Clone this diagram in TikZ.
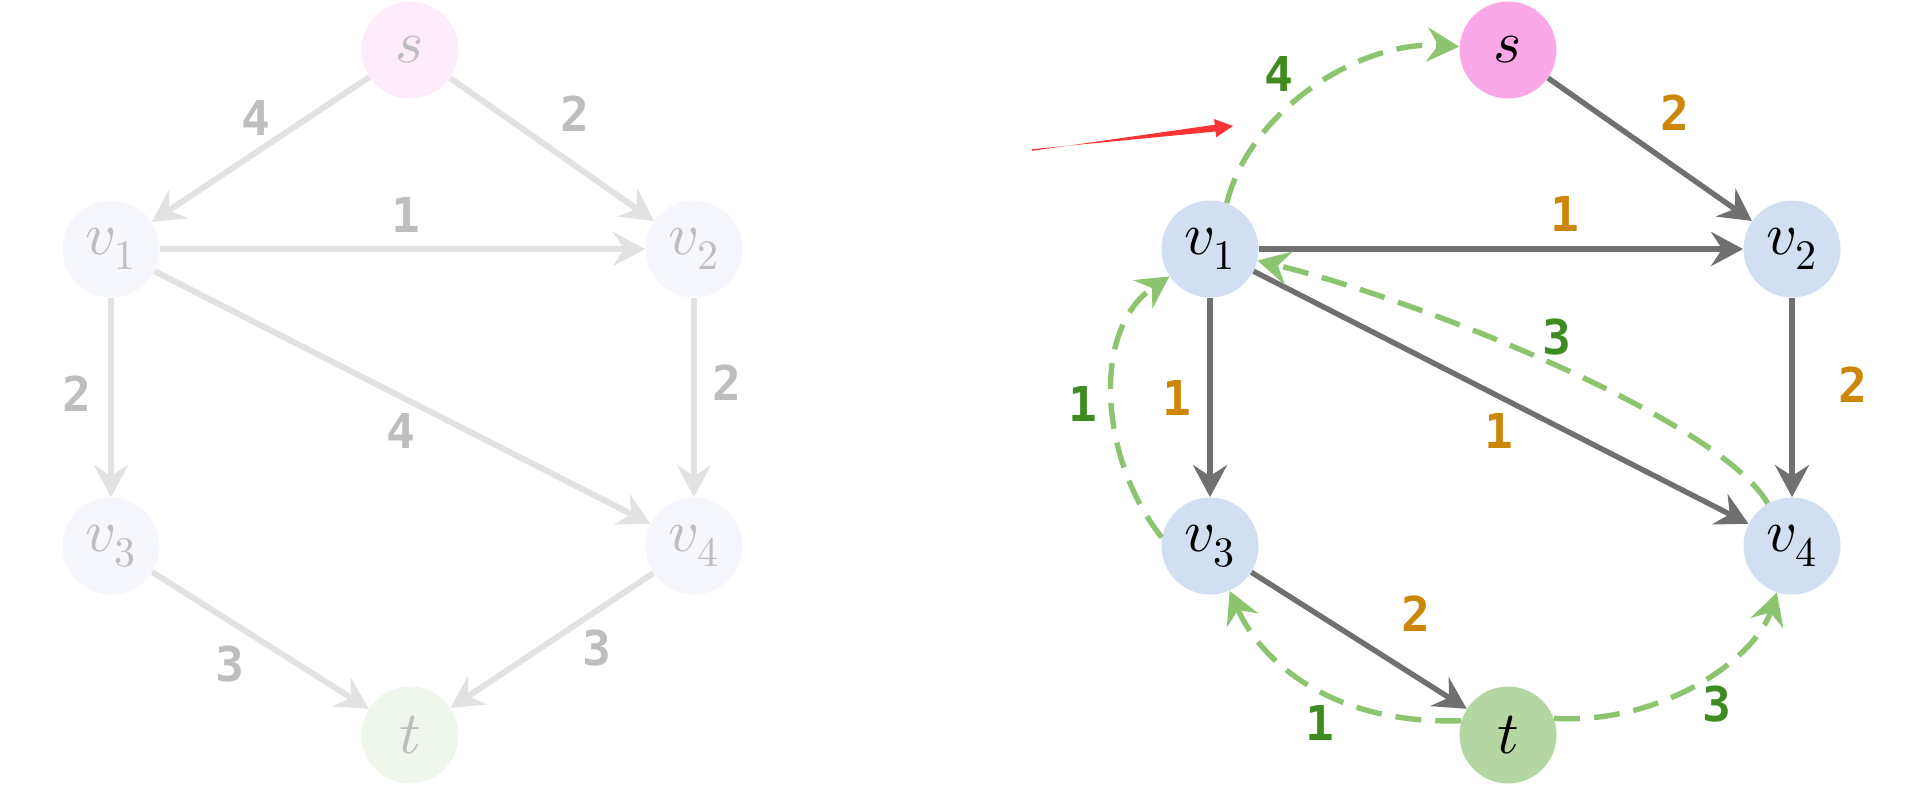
\documentclass[tikz,border=0pt]{standalone}
\usepackage{unicode-math}
\setmathfont{Latin Modern Math}
\newfontfamily\lblfont{DejaVu Sans Mono}
\usetikzlibrary{arrows.meta,calc}
\definecolor{fadeline}{RGB}{226,226,226}
\definecolor{fadetext}{RGB}{190,190,190}
\definecolor{fadeS}{RGB}{253,236,250}
\definecolor{fadeV}{RGB}{245,247,252}
\definecolor{fadeT}{RGB}{239,246,236}
\definecolor{fillS}{RGB}{250,168,232}
\definecolor{fillV}{RGB}{210,222,242}
\definecolor{fillT}{RGB}{180,214,162}
\definecolor{edgegray}{RGB}{112,112,112}
\definecolor{dashgreen}{RGB}{140,196,112}
\definecolor{lblgreen}{RGB}{62,140,32}
\definecolor{lblorange}{RGB}{204,134,8}
\definecolor{arrowred}{RGB}{250,52,52}
\begin{document}
\begin{tikzpicture}[x=0.5pt,y=-0.5pt,
  tip/.style={-{Stealth[length=16pt,width=17pt,inset=5.5pt]}},
  vtx/.style={circle,minimum size=48.5pt,inner sep=0pt,font=\fontsize{30}{33}\selectfont},
  fadevtx/.style={vtx,text=fadetext},
  lbl/.style={inner sep=0pt,font={\lblfont\bfseries\fontsize{24}{27}\selectfont}},
  fadelbl/.style={lbl,text=fadetext},
  orlbl/.style={lbl,text=lblorange},
  grlbl/.style={lbl,text=lblgreen},
  fedge/.style={tip,draw=fadeline,line width=3pt},
  gedge/.style={tip,draw=edgegray,line width=2.7pt},
  dedge/.style={tip,draw=dashgreen,line width=2.7pt,dash pattern=on 13pt off 7pt}]
\useasboundingbox (0,0) rectangle (1920,788);

% ---------- left (faded) graph ----------
\node[fadevtx,fill=fadeS] (sl)  at (410,50)  {$s$};
\node[fadevtx,fill=fadeV] (v1l) at (111,249) {$v_1$};
\node[fadevtx,fill=fadeV] (v2l) at (694,249) {$v_2$};
\node[fadevtx,fill=fadeV] (v3l) at (111,546) {$v_3$};
\node[fadevtx,fill=fadeV] (v4l) at (694,546) {$v_4$};
\node[fadevtx,fill=fadeT] (tl)  at (410,735) {$t$};

\draw[fedge] (sl) -- (v1l);
\draw[fedge] (sl) -- (v2l);
\draw[fedge] (v1l) -- (v2l);
\draw[fedge] (v1l) -- (v3l);
\draw[fedge] (v1l) -- (v4l);
\draw[fedge] (v2l) -- (v4l);
\draw[fedge] (v3l) -- (tl);
\draw[fedge] (v4l) -- (tl);

\node[fadelbl] (l1) at (256,118) {4};
\node[fadelbl] (l2) at (575,114) {2};
\node[fadelbl] (l3) at (406,215) {1};
\node[fadelbl] (l4) at (77,394)  {2};
\node[fadelbl] (l5) at (401,431) {4};
\node[fadelbl] (l6) at (727,383) {2};
\node[fadelbl] (l7) at (230,664) {3};
\node[fadelbl] (l8) at (597,648) {3};

% ---------- right graph ----------
\node[vtx,fill=fillS] (sr)  at (1508,50)  {$s$};
\node[vtx,fill=fillV] (v1r) at (1210,249) {$v_1$};
\node[vtx,fill=fillV] (v2r) at (1792,249) {$v_2$};
\node[vtx,fill=fillV] (v3r) at (1210,546) {$v_3$};
\node[vtx,fill=fillV] (v4r) at (1792,546) {$v_4$};
\node[vtx,fill=fillT] (tr)  at (1508,735) {$t$};

\draw[gedge] (sr) -- (v2r);
\draw[gedge] (v1r) -- (v2r);
\draw[gedge] (v1r) -- (v3r);
\draw[gedge] (v1r) -- (v4r);
\draw[gedge] (v2r) -- (v4r);
\draw[gedge] (v3r) -- (tr);

\draw[dedge] (v1r.70) .. controls (1250,110) and (1360,40) .. (sr);
\draw[dedge] (v4r) .. controls (1720,420) and (1420,300) .. (v1r);
\draw[dedge] (v3r.170) .. controls (1100,460) and (1090,330) .. (v1r);
\draw[dedge] (tr.163) .. controls (1330,725) and (1260,660) .. (v3r);
\draw[dedge] (tr.20) .. controls (1660,725) and (1755,660) .. (v4r);

\node[orlbl] (r1) at (1675,113) {2};
\node[orlbl] (r2) at (1565,214) {1};
\node[orlbl] (r3) at (1853,385) {2};
\node[orlbl] (r4) at (1177,398) {1};
\node[orlbl] (r5) at (1499,431) {1};
\node[orlbl] (r6) at (1416,614) {2};

\node[grlbl] (g1) at (1279,74)  {4};
\node[grlbl] (g2) at (1557,337) {3};
\node[grlbl] (g3) at (1083,404) {1};
\node[grlbl] (g4) at (1320,723) {1};
\node[grlbl] (g5) at (1717,704) {3};

% ---------- red pointer ----------
\coordinate (ra) at (1032,150);
\coordinate (rb) at (1233,126);
\coordinate (rh) at ($(rb)!9pt!(ra)$);
\fill[arrowred] ($(ra)!0.4pt!90:(rb)$) -- ($(rh)!1.7pt!-90:(rb)$)
  -- ($(rh)!4.6pt!-90:(rb)$) -- (rb) -- ($(rh)!4.6pt!90:(rb)$)
  -- ($(rh)!1.7pt!90:(rb)$) -- ($(ra)!0.4pt!-90:(rb)$) -- cycle;
\end{tikzpicture}
\end{document}
